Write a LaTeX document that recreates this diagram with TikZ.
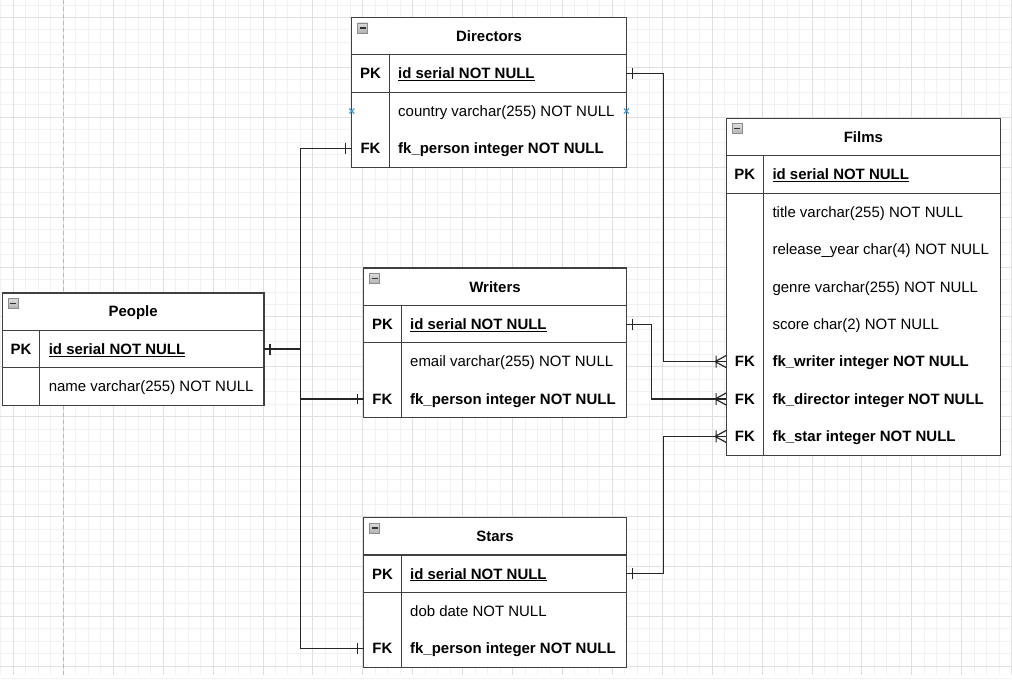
\documentclass[tikz,border=0pt]{standalone}
\usepackage{fontspec}
\setmainfont{Liberation Sans}
\usetikzlibrary{positioning}

\begin{document}
\begin{tikzpicture}[
    x=1pt, y=-1pt,
    every node/.style = {
      inner sep=0pt,
      outer sep=0pt,
      text height=10.7pt,
      text depth=0pt,
      font=\fontsize{15}{18}\selectfont,
      text=black
    },
    head/.style = {
      draw=black!75,
      line width=1.2pt,
      fill=white,
      anchor=north west,
      minimum height=37.5pt,
      font=\fontsize{15}{18}\selectfont\bfseries
    },
    body/.style = {draw=black!75, line width=1.2pt, fill=white},
    sep/.style = {draw=black!75, line width=1.2pt},
    keytext/.style = {font=\fontsize{15}{18}\selectfont\bfseries},
    field/.style = {anchor=west},
    boldfield/.style = {anchor=west, font=\fontsize{15}{18}\selectfont\bfseries},
    link/.style = {draw=black!85, line width=1.2pt},
    iconbox/.style = {draw=black!45, top color=black!5, bottom color=black!30, line width=0.6pt},
    iconbar/.style = {draw=black!80, line width=1.3pt},
    hover/.style = {draw=cyan!70!blue!80, line width=1.1pt},
    minorgrid/.style = {draw=black!5, line width=0.8pt},
    majorgrid/.style = {draw=black!12, line width=0.8pt}
  ]

  % background and grid
  \fill[white] (0,0) rectangle (1012,676);
  \foreach \g in {0,...,81} {
    \draw[minorgrid] ({0.5+12.5*\g},0) -- ++(0,676);
  }
  \foreach \g in {0,...,54} {
    \draw[minorgrid] (0,{4.5+12.5*\g}) -- ++(1012,0);
  }
  \foreach \g in {0,...,20} {
    \draw[majorgrid] ({13+50*\g},0) -- ++(0,676);
  }
  \foreach \g in {0,...,13} {
    \draw[majorgrid] (0,{17+50*\g}) -- ++(1012,0);
  }
  \draw[draw=black!28, line width=0.9pt, dash pattern=on 4pt off 3pt] (63,0) -- (63,676);
  \useasboundingbox (0,0) rectangle (1012,676);

  % Directors
  \node[head, minimum width=275pt] (dir) at (352,17) {Directors};
  \draw[body] (dir.south west) rectangle ++(275,112.5);
  \draw[sep] (352,92) -- ++(275,0);
  \draw[sep] (389.5,54.5) -- (389.5,167);
  \node[keytext] (dirpkk) at (370.75,73.25) {PK};
  \node[boldfield] (dirpk) at (398.5,73.25) {\underline{id serial NOT NULL}};
  \node[field] (dirctry) at (398.5,110.75) {country varchar(255) NOT NULL};
  \node[keytext] (dirfkk) at (370.75,148.25) {FK};
  \node[boldfield] (dirfk) at (398.5,148.25) {fk\_person integer NOT NULL};

  % People
  \node[head, minimum width=262pt] (ppl) at (2,293) {People};
  \draw[body] (ppl.south west) rectangle ++(262,75);
  \draw[sep] (2,368) -- ++(262,0);
  \draw[sep] (39.5,330.5) -- (39.5,405.5);
  \node[keytext] (pplpkk) at (20.75,349.25) {PK};
  \node[boldfield] (pplpk) at (48.5,349.25) {\underline{id serial NOT NULL}};
  \node[field] (pplname) at (48.5,386.75) {name varchar(255) NOT NULL};

  % Writers
  \node[head, minimum width=263pt] (wri) at (364,268) {Writers};
  \draw[body] (wri.south west) rectangle ++(263,112.5);
  \draw[sep] (364,343) -- ++(263,0);
  \draw[sep] (401.5,305.5) -- (401.5,418);
  \node[keytext] (wripkk) at (382.75,324.25) {PK};
  \node[boldfield] (wripk) at (410.5,324.25) {\underline{id serial NOT NULL}};
  \node[field] (wrimail) at (410.5,361.75) {email varchar(255) NOT NULL};
  \node[keytext] (wrifkk) at (382.75,399.25) {FK};
  \node[boldfield] (wrifk) at (410.5,399.25) {fk\_person integer NOT NULL};

  % Stars
  \node[head, minimum width=263pt] (sta) at (364,518) {Stars};
  \draw[body] (sta.south west) rectangle ++(263,112.5);
  \draw[sep] (364,593) -- ++(263,0);
  \draw[sep] (401.5,555.5) -- (401.5,668);
  \node[keytext] (stapkk) at (382.75,574.25) {PK};
  \node[boldfield] (stapk) at (410.5,574.25) {\underline{id serial NOT NULL}};
  \node[field] (stadob) at (410.5,611.75) {dob date NOT NULL};
  \node[keytext] (stafkk) at (382.75,649.25) {FK};
  \node[boldfield] (stafk) at (410.5,649.25) {fk\_person integer NOT NULL};

  % Films
  \node[head, minimum width=275pt] (flm) at (727,118) {Films};
  \draw[body] (flm.south west) rectangle ++(275,300);
  \draw[sep] (727,193) -- ++(275,0);
  \draw[sep] (764.5,155.5) -- (764.5,455.5);
  \node[keytext] (flmpkk) at (745.75,174.25) {PK};
  \node[boldfield] (flmpk) at (773.5,174.25) {\underline{id serial NOT NULL}};
  \node[field] (flmtitle) at (773.5,211.75) {title varchar(255) NOT NULL};
  \node[field] (flmyear) at (773.5,249.25) {release\_year char(4) NOT NULL};
  \node[field] (flmgenre) at (773.5,286.75) {genre varchar(255) NOT NULL};
  \node[field] (flmscore) at (773.5,324.25) {score char(2) NOT NULL};
  \node[keytext] (flmfkwk) at (745.75,361.75) {FK};
  \node[boldfield] (flmfkw) at (773.5,361.75) {fk\_writer integer NOT NULL};
  \node[keytext] (flmfkdk) at (745.75,399.25) {FK};
  \node[boldfield] (flmfkd) at (773.5,399.25) {fk\_director integer NOT NULL};
  \node[keytext] (flmfksk) at (745.75,436.75) {FK};
  \node[boldfield] (flmfks) at (773.5,436.75) {fk\_star integer NOT NULL};

  % collapse icons
  \foreach \t in {dir,ppl,wri,sta,flm} {
    \draw[iconbox] (\t.north west) ++(6,5.5) rectangle ++(10,10);
    \draw[iconbar] (\t.north west) ++(8,10.5) -- ++(6,0);
  }

  % people -> directors, writers, stars
  \coordinate (bus) at (301,349.25);
  \draw[link] (ppl.east |- pplpk) -- (bus) |- (dir.west |- dirfk);
  \draw[link] (bus) |- (wri.west |- wrifk);
  \draw[link] (bus) |- (sta.west |- stafk);

  % directors, writers, stars -> films
  \draw[link] (dir.east |- dirpk) -- ++(37,0) |- (flm.west |- flmfkw);
  \draw[link] (wri.east |- wripk) -- ++(25,0) |- (flm.west |- flmfkd);
  \draw[link] (sta.east |- stapk) -- ++(37,0) |- (flm.west |- flmfks);

  % one ends
  \draw[link] (ppl.east |- pplpk) ++(6,-5.5) -- ++(0,11);
  \draw[link] (dir.east |- dirpk) ++(6,-5.5) -- ++(0,11);
  \draw[link] (wri.east |- wripk) ++(6,-5.5) -- ++(0,11);
  \draw[link] (sta.east |- stapk) ++(6,-5.5) -- ++(0,11);
  \draw[link] (dir.west |- dirfk) ++(-6,-5.5) -- ++(0,11);
  \draw[link] (wri.west |- wrifk) ++(-6,-5.5) -- ++(0,11);
  \draw[link] (sta.west |- stafk) ++(-6,-5.5) -- ++(0,11);

  % many ends
  \foreach \r in {flmfkw,flmfkd,flmfks} {
    \draw[link] (flm.west |- \r) ++(-11,0) -- ++(11,-6) ++(-11,6) -- ++(11,6)
      ++(-10,-12) -- ++(0,12);
  }

  % hover markers
  \draw[hover] (dir.west |- dirctry) ++(-2.5,-2.5) -- ++(5,5) ++(-5,0) -- ++(5,-5);
  \draw[hover] (dir.east |- dirctry) ++(-2.5,-2.5) -- ++(5,5) ++(-5,0) -- ++(5,-5);

\end{tikzpicture}
\end{document}
